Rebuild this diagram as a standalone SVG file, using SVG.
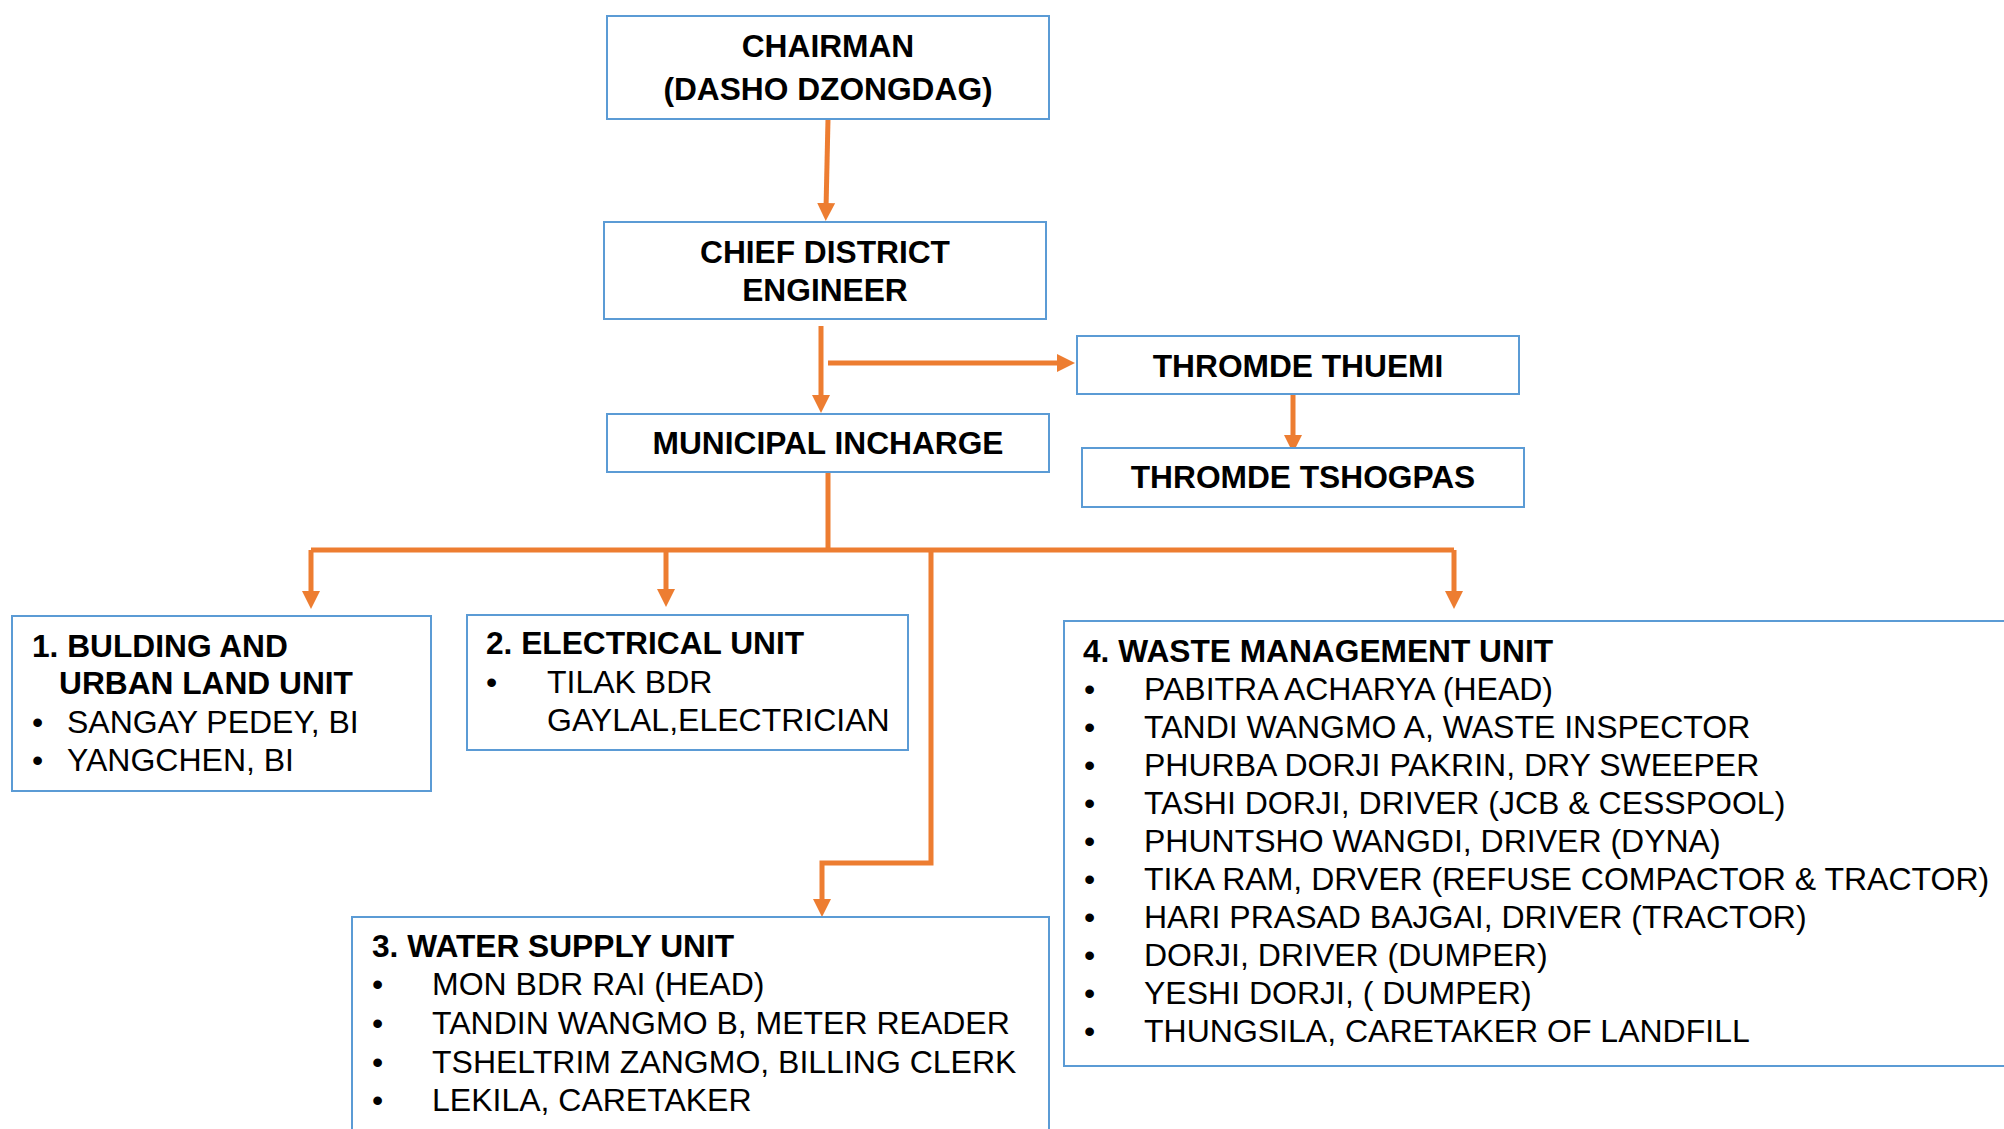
<svg xmlns="http://www.w3.org/2000/svg" width="2004" height="1129" viewBox="0 0 2004 1129">
<style>
.box{fill:#fff;stroke:#5B9BD5;stroke-width:2}
.t{font-family:"Liberation Sans",Arial,sans-serif;font-size:32px;fill:#000}
.b{font-weight:bold;font-size:31.7px}
.c{text-anchor:middle}
.con{fill:none;stroke:#ED7D31;stroke-width:5}
</style>
<defs>
<marker id="ah" markerUnits="userSpaceOnUse" viewBox="0 0 18 18" refX="6" refY="9" markerWidth="18" markerHeight="18" orient="auto">
<path d="M0,0 L18,9 L0,18 z" fill="#ED7D31"/>
</marker>
</defs>
<rect width="2004" height="1129" fill="#fff"/>
<g id="connectors">
<path class="con" d="M828,119 L826,209" marker-end="url(#ah)"/>
<path class="con" d="M821,326 L821,401" marker-end="url(#ah)"/>
<path class="con" d="M828,363 L1063,363" marker-end="url(#ah)"/>
<path class="con" d="M1293,394 L1293,441" marker-end="url(#ah)"/>
<path class="con" d="M828,472 L828,550"/>
<path class="con" d="M311,550 L1454,550"/>
<path class="con" d="M311,550 L311,597" marker-end="url(#ah)"/>
<path class="con" d="M666,550 L666,595" marker-end="url(#ah)"/>
<path class="con" d="M1454,550 L1454,597" marker-end="url(#ah)"/>
<path class="con" d="M931,550 L931,863 L822,863 L822,905" marker-end="url(#ah)"/>
</g>
<g id="chairman">
<rect class="box" x="607" y="16" width="442" height="103"/>
<text class="t b c" x="828" y="57">CHAIRMAN</text>
<text class="t b c" x="828" y="100">(DASHO DZONGDAG)</text>
</g>
<g id="chief-district-engineer">
<rect class="box" x="604" y="222" width="442" height="97"/>
<text class="t b c" x="825" y="263">CHIEF DISTRICT</text>
<text class="t b c" x="825" y="301">ENGINEER</text>
</g>
<g id="thromde-thuemi">
<rect class="box" x="1077" y="336" width="442" height="58"/>
<text class="t b c" x="1298" y="377">THROMDE THUEMI</text>
</g>
<g id="municipal-incharge">
<rect class="box" x="607" y="414" width="442" height="58"/>
<text class="t b c" x="828" y="454">MUNICIPAL INCHARGE</text>
</g>
<g id="thromde-tshogpas">
<rect class="box" x="1082" y="448" width="442" height="59"/>
<text class="t b c" x="1303" y="488">THROMDE TSHOGPAS</text>
</g>
<g id="building-unit">
<rect class="box" x="12" y="616" width="419" height="175"/>
<text class="t b" x="32" y="657">1. BULDING AND</text>
<text class="t b" x="59" y="694">URBAN LAND UNIT</text>
<text class="t" x="32" y="733">•</text>
<text class="t" x="67" y="733">SANGAY PEDEY, BI</text>
<text class="t" x="32" y="771">•</text>
<text class="t" x="67" y="771">YANGCHEN, BI</text>
</g>
<g id="electrical-unit">
<rect class="box" x="467" y="615" width="441" height="135"/>
<text class="t b" x="486" y="654">2. ELECTRICAL UNIT</text>
<text class="t" x="486" y="693">•</text>
<text class="t" x="547" y="693">TILAK BDR</text>
<text class="t" x="547" y="731">GAYLAL,ELECTRICIAN</text>
</g>
<g id="water-supply-unit">
<rect class="box" x="352" y="917" width="697" height="260"/>
<text class="t b" x="372" y="957">3. WATER SUPPLY UNIT</text>
<g class="t">
<text x="372" y="995">•</text><text x="432" y="995">MON BDR RAI (HEAD)</text>
<text x="372" y="1034">•</text><text x="432" y="1034">TANDIN WANGMO B, METER READER</text>
<text x="372" y="1073">•</text><text x="432" y="1073">TSHELTRIM ZANGMO, BILLING CLERK</text>
<text x="372" y="1111">•</text><text x="432" y="1111">LEKILA, CARETAKER</text>
</g>
</g>
<g id="waste-management-unit">
<rect class="box" x="1064" y="621" width="1000" height="445"/>
<text class="t b" x="1083" y="662">4. WASTE MANAGEMENT UNIT</text>
<g class="t">
<text x="1084" y="700">•</text><text x="1144" y="700">PABITRA ACHARYA (HEAD)</text>
<text x="1084" y="738">•</text><text x="1144" y="738">TANDI WANGMO A, WASTE INSPECTOR</text>
<text x="1084" y="776">•</text><text x="1144" y="776">PHURBA DORJI PAKRIN, DRY SWEEPER</text>
<text x="1084" y="814">•</text><text x="1144" y="814">TASHI DORJI, DRIVER (JCB &amp; CESSPOOL)</text>
<text x="1084" y="852">•</text><text x="1144" y="852">PHUNTSHO WANGDI, DRIVER (DYNA)</text>
<text x="1084" y="890">•</text><text x="1144" y="890">TIKA RAM, DRVER (REFUSE COMPACTOR &amp; TRACTOR)</text>
<text x="1084" y="928">•</text><text x="1144" y="928">HARI PRASAD BAJGAI, DRIVER (TRACTOR)</text>
<text x="1084" y="966">•</text><text x="1144" y="966">DORJI, DRIVER (DUMPER)</text>
<text x="1084" y="1004">•</text><text x="1144" y="1004">YESHI DORJI, ( DUMPER)</text>
<text x="1084" y="1042">•</text><text x="1144" y="1042">THUNGSILA, CARETAKER OF LANDFILL</text>
</g>
</g>
</svg>
